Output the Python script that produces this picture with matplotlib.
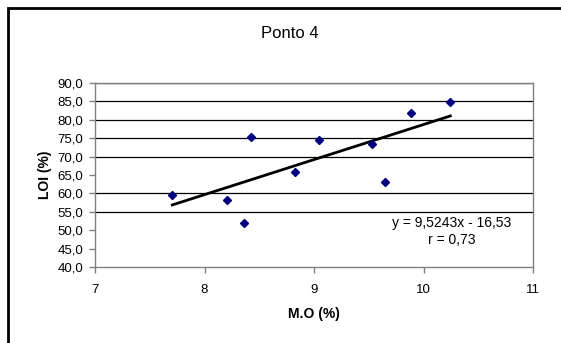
import numpy as np
import matplotlib
matplotlib.use("Agg")
import matplotlib.pyplot as plt
from matplotlib.patches import Rectangle
from matplotlib.ticker import FuncFormatter

plt.rcParams['font.family'] = ['Liberation Sans', 'DejaVu Sans']

# dados
mo = [7.706, 8.203, 8.364, 8.428, 8.826, 9.046, 9.527, 9.645, 9.886, 10.245]
loi = [59.6, 58.1, 52.0, 75.4, 65.8, 74.4, 73.4, 63.1, 81.8, 84.8]
inclinacao = 9.5243
intercepto = -16.53
r = 0.73
linhas_grade = [55, 60, 70, 75, 80, 85, 90]

fig = plt.figure(figsize=(5.61, 3.43), dpi=100)
ax = fig.add_axes([95/561, 1-267/343, (533-95)/561, (267-83)/343])

# borda externa
fig.patches.append(Rectangle((7.5/561, -0.1), 1.2, 1.1-7.5/343, transform=fig.transFigure,
                             fill=False, edgecolor='black', linewidth=2, clip_on=False))

for g in linhas_grade:
    ax.axhline(g, color='black', linewidth=0.9, zorder=1)

# linha de tendencia
xt = np.array([min(mo), max(mo)])
ax.plot(xt, inclinacao*xt + intercepto, color='black', linewidth=2, zorder=2)
ax.plot(mo, loi, linestyle='none', marker='D', markersize=4.2, color='#000080', zorder=3)

ax.set_xlim(7, 11)
ax.set_ylim(40, 90)
ax.set_xticks([7, 8, 9, 10, 11])
ax.set_yticks(np.arange(40, 91, 5))
ax.yaxis.set_major_formatter(FuncFormatter(lambda v, p: f"{v:.1f}".replace('.', ',')))
for s in ax.spines.values():
    s.set_color('#808080')
    s.set_linewidth(1)
ax.tick_params(axis='both', labelsize=9.5, length=4.5, width=1, color='#808080', direction='out')
ax.tick_params(axis='y', pad=4)
ax.tick_params(axis='x', pad=8)

ax.set_xlabel('M.O (%)', fontsize=10, fontweight='bold', labelpad=8)
ax.set_ylabel('LOI (%)', fontsize=10, fontweight='bold', labelpad=4)
fig.text(290/561, 1-34/343, 'Ponto 4', fontsize=12, ha='center', va='center')

ax.text(10.256, 49.6, f"y = {inclinacao:.4f}x - {abs(intercepto):.2f}\nr = {r:.2f}".replace('.', ','),
        fontsize=10, ha='center', va='center', linespacing=1.25)

fig.savefig('out.png', dpi=100)
